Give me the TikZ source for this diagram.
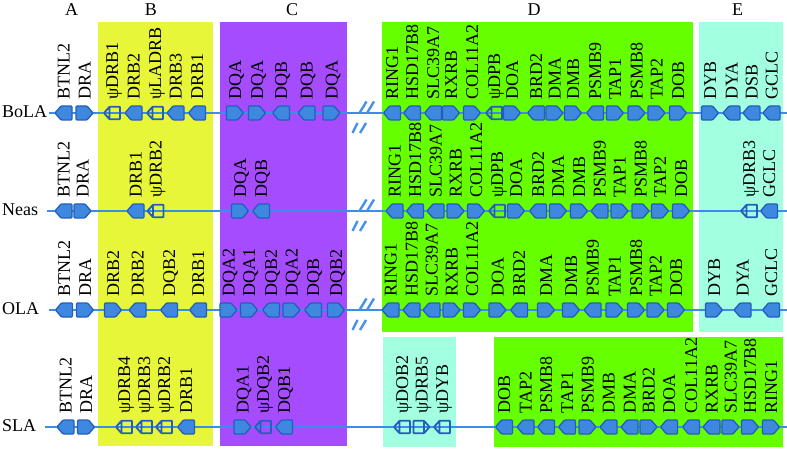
\documentclass[tikz,border=0pt]{standalone}
\usepackage{fontspec}
\setmainfont{Liberation Serif}
\definecolor{boxB}{RGB}{232,246,58}
\definecolor{boxC}{RGB}{166,76,255}
\definecolor{boxD}{RGB}{102,255,0}
\definecolor{boxE}{RGB}{162,255,224}
\definecolor{genefill}{RGB}{62,136,224}
\definecolor{geneedge}{RGB}{36,94,186}
\definecolor{chromblue}{RGB}{62,140,230}
\definecolor{brkblue}{RGB}{70,145,235}
\begin{document}
\begin{tikzpicture}[
    x=1pt, y=-1pt,
    hdr/.style={font=\fontsize{18}{20}\selectfont, inner sep=0pt},
    rowname/.style={font=\fontsize{18}{20}\selectfont, anchor=west, inner sep=0pt},
    chrom/.style={line width=1.1pt, chromblue},
    brk/.style={line width=2.4pt, brkblue},
    genelab/.style={font=\fontsize{18}{20}\selectfont, rotate=90, anchor=base west, inner sep=0pt},
    gene/.pic={\path[fill=genefill, draw=geneedge, line width=1.3pt, rounded corners=1pt]
        (-8.5,-7) -- (2.5,-7) -- (8.5,0) -- (2.5,7) -- (-8.5,7) -- cycle;},
    pseudo/.pic={\path[draw=geneedge, line width=1.8pt, rounded corners=0.8pt]
        (-8,-6.3) -- (2.5,-6.3) -- (8,0) -- (2.5,6.3) -- (-8,6.3) -- cycle (2.5,-6.3) -- (2.5,6.3);}
]
    \useasboundingbox (0,0) rectangle (787,449);

    \fill[boxB] (98,22) rectangle (212.5,446);
    \fill[boxC] (219.5,22) rectangle (346.5,446);
    \fill[boxD] (382,22) rectangle (692.5,332);
    \fill[boxE] (699,22) rectangle (782.5,332);
    \fill[boxE] (382.5,337) rectangle (456,447);
    \fill[boxD] (493.5,337) rectangle (782.5,447);

    \node[hdr] (hA) at (71.5,10) {A};
    \node[hdr] (hB) at (151,10) {B};
    \node[hdr] (hC) at (292,10) {C};
    \node[hdr] (hD) at (534,10) {D};
    \node[hdr] (hE) at (737.5,10) {E};

    \node[rowname] (bola) at (2,112) {BoLA};
    \node[rowname] (neas) at (2,210) {Neas};
    \node[rowname] (ola) at (2,309) {OLA};
    \node[rowname] (sla) at (2,426) {SLA};

    \coordinate (bola-s) at (49,113);  \coordinate (bola-e) at (787,113);
    \coordinate (neas-s) at (47,211);  \coordinate (neas-e) at (787,211);
    \coordinate (ola-s) at (49,310);   \coordinate (ola-e) at (787,310);
    \coordinate (sla-s) at (45,427);   \coordinate (sla-e) at (787,427);
    \draw[chrom] (bola-s) -- (bola-e);
    \draw[chrom] (neas-s) -- (neas-e);
    \draw[chrom] (ola-s) -- (ola-e);
    \draw[chrom] (sla-s) -- (sla-e);

    \foreach \y in {113,211,310} {
        \draw[brk] (359.5,\y) -- (366.5,\y-11.5) (367,\y) -- (374,\y-11.5);
        \draw[brk] (352.5,\y+20) -- (357.5,\y+10) (360,\y+20) -- (366,\y+10);
    }

    \foreach \x/\dir/\kind/\gname [count=\i] in {63.5/-1/gene/BTNL2, 84.5/1/gene/DRA,
        112/-1/pseudo/ψDRB1, 133.5/-1/gene/DRB2, 155/-1/pseudo/ψLADRB, 175.5/-1/gene/DRB3, 197/-1/gene/DRB1,
        235/1/gene/DQA, 257/1/gene/DQA, 281/-1/gene/DQB, 306.5/-1/gene/DQB, 331.5/1/gene/DQA,
        392/-1/gene/RING1, 412/-1/gene/HSD17B8, 433/-1/gene/SLC39A7, 451/1/gene/RXRB, 472/1/gene/COL11A2,
        494/-1/pseudo/ψDPB, 512/1/gene/DOA, 536/-1/gene/BRD2, 554.5/1/gene/DMA, 573/1/gene/DMB,
        595/-1/gene/PSMB9, 615/1/gene/TAP1, 636.5/1/gene/PSMB8, 656.5/1/gene/TAP2, 678/1/gene/DOB,
        710/1/gene/DYB, 731.5/-1/gene/DYA, 751.5/-1/gene/DSB, 771.5/-1/gene/GCLC} {
        \pic[xscale=\dir] at (\x,113) {\kind};
        \node[genelab] (bola-\i) at (\x+6,100) {\gname};
    }

    \foreach \x/\dir/\kind/\gname [count=\i] in {63.5/-1/gene/BTNL2, 82.5/1/gene/DRA,
        135.5/-1/gene/DRB1, 155.5/-1/pseudo/ψDRB2, 240/1/gene/DQA, 261/-1/gene/DQB,
        394.5/-1/gene/RING1, 415/-1/gene/HSD17B8, 435.5/-1/gene/SLC39A7, 455.5/1/gene/RXRB, 476/1/gene/COL11A2,
        497/-1/pseudo/ψDPB, 516/1/gene/DOA, 538/-1/gene/BRD2, 558/1/gene/DMA, 579/1/gene/DMB,
        599.5/-1/gene/PSMB9, 619.5/1/gene/TAP1, 640.5/1/gene/PSMB8, 660/1/gene/TAP2, 681/1/gene/DOB,
        749/-1/pseudo/ψDRB3, 769/-1/gene/GCLC} {
        \pic[xscale=\dir] at (\x,211) {\kind};
        \node[genelab] (neas-\i) at (\x+6,198) {\gname};
    }

    \foreach \x/\dir/\kind/\gname [count=\i] in {64/-1/gene/BTNL2, 85/1/gene/DRA,
        113/1/gene/DRB2, 137.5/-1/gene/DRB2, 169/-1/gene/DQB2, 198/-1/gene/DRB1,
        228.5/1/gene/DQA2, 249/1/gene/DQA1, 271/-1/gene/DQB2, 291.5/1/gene/DQA2, 313/-1/gene/DQB, 336/1/gene/DQB2,
        390.5/-1/gene/RING1, 411.5/-1/gene/HSD17B8, 431.5/-1/gene/SLC39A7, 451.5/1/gene/RXRB, 472/1/gene/COL11A2,
        497.5/1/gene/DOA, 519/-1/gene/BRD2, 546/1/gene/DMA, 571/1/gene/DMB,
        592.5/-1/gene/PSMB9, 614.5/1/gene/TAP1, 636/1/gene/PSMB8, 655.5/1/gene/TAP2, 676/1/gene/DOB,
        714/1/gene/DYB, 742.5/-1/gene/DYA, 771/-1/gene/GCLC} {
        \pic[xscale=\dir] at (\x,310) {\kind};
        \node[genelab] (ola-\i) at (\x+6,297) {\gname};
    }

    \foreach \x/\dir/\kind/\gname [count=\i] in {65.5/-1/gene/BTNL2, 86/1/gene/DRA,
        124/-1/pseudo/ψDRB4, 144/-1/pseudo/ψDRB3, 164/-1/pseudo/ψDRB2, 186/-1/gene/DRB1,
        242.5/1/gene/DQA1, 263/-1/pseudo/ψDQB2, 284/-1/gene/DQB1,
        402/-1/pseudo/ψDOB2, 421.5/1/pseudo/ψDRB5, 442/-1/pseudo/ψDYB,
        504/-1/gene/DOB, 525.5/-1/gene/TAP2, 546/-1/gene/PSMB8, 567/-1/gene/TAP1, 587.5/1/gene/PSMB9,
        608.5/-1/gene/DMB, 629.5/-1/gene/DMA, 648.5/1/gene/BRD2, 669/-1/gene/DOA, 691/-1/gene/COL11A2,
        711.5/-1/gene/RXRB, 730.5/1/gene/SLC39A7, 750/1/gene/HSD17B8, 771/1/gene/RING1} {
        \pic[xscale=\dir] at (\x,427) {\kind};
        \node[genelab] (sla-\i) at (\x+6,413.5) {\gname};
    }
\end{tikzpicture}
\end{document}
